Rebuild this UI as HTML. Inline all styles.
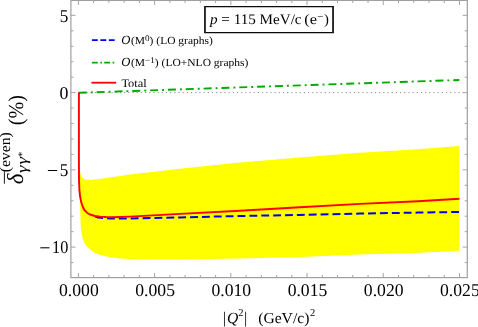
<!DOCTYPE html>
<html><head><meta charset="utf-8"><title>plot</title>
<style>
html,body{margin:0;padding:0;background:#fff;}
body{width:478px;height:327px;overflow:hidden;}
svg{display:block;}
text{font-family:"Liberation Serif",serif;fill:#000;text-rendering:geometricPrecision;}
</style></head><body>
<svg width="478" height="327" viewBox="0 0 478 327" style="will-change:transform;transform:translateZ(0)">
<defs><clipPath id="cb"><rect x="92" y="200" width="380" height="30"/></clipPath></defs>
<rect x="0" y="0" width="478" height="327" fill="#ffffff"/>
<path d="M79.0,92.6 L79.2,150.0 L79.6,168.0 L80.2,173.2 L81.5,176.6 L83.9,178.9 L87.6,180.1 L89.9,180.0 L99.8,179.1 L109.8,177.6 L120.0,175.9 L130.0,174.6 L180.0,168.8 L240.0,162.4 L300.0,157.6 L360.0,152.8 L418.0,149.2 L459.4,146.1 L459.4,250.8 L420.0,252.7 L360.0,254.6 L300.0,256.9 L240.0,258.6 L180.0,259.6 L150.0,259.4 L130.0,258.9 L120.2,258.4 L110.2,257.2 L100.1,255.1 L95.0,253.1 L90.7,250.1 L87.8,247.5 L85.7,245.1 L83.8,241.5 L82.5,237.5 L81.4,232.0 L80.7,225.0 L80.1,205.0 L79.6,180.0 L79.2,150.0 Z" fill="#ffff00" stroke="none"/>
<line x1="70.9" y1="92.6" x2="467.3" y2="92.6" stroke="#777" stroke-width="0.9" stroke-dasharray="1.1 3.08" stroke-dashoffset="1.1"/>
<path d="M79.0,92.6 L79.0,160.0 L79.4,180.0 L80.3,196.0 L81.8,204.0 L84.7,210.2 L89.5,214.6 L98.2,217.6 L110.0,218.4 L122.0,218.6 L130.0,218.5 L180.0,217.4 L240.0,216.0 L300.0,214.9 L360.0,213.6 L418.0,212.6 L459.4,212.0" fill="none" stroke="#0000e8" stroke-width="2" stroke-dasharray="7.9 3.97" stroke-dashoffset="-0.5" stroke-linejoin="round" clip-path="url(#cb)"/>
<path d="M78.4,92.8 L459.3,80.0" fill="none" stroke="#00aa00" stroke-width="1.9" stroke-dasharray="8 4 1.9 3.94" stroke-dashoffset="-0.4"/>
<path d="M78.9,92.6 L78.9,160.0 L79.0,180.0 L79.4,190.0 L80.1,196.5 L81.3,202.5 L82.7,206.5 L84.4,210.0 L87.0,212.7 L90.0,214.5 L95.0,216.0 L100.0,216.6 L106.0,217.0 L112.7,217.2 L120.0,217.0 L130.0,216.6 L180.0,213.9 L240.0,210.7 L300.0,207.2 L360.0,203.9 L418.0,201.2 L459.5,198.8" fill="none" stroke="#ff0000" stroke-width="1.9" stroke-linejoin="round"/>
<rect x="70.9" y="0.4" width="396.4" height="277.2" fill="none" stroke="#9f9f9f" stroke-width="1.2"/>
<path d="M78.40,277.6 v-4.6 M78.40,0.4 v4.6 M93.64,277.6 v-2.6 M93.64,0.4 v2.6 M108.89,277.6 v-2.6 M108.89,0.4 v2.6 M124.13,277.6 v-2.6 M124.13,0.4 v2.6 M139.38,277.6 v-2.6 M139.38,0.4 v2.6 M154.62,277.6 v-4.6 M154.62,0.4 v4.6 M169.86,277.6 v-2.6 M169.86,0.4 v2.6 M185.11,277.6 v-2.6 M185.11,0.4 v2.6 M200.35,277.6 v-2.6 M200.35,0.4 v2.6 M215.60,277.6 v-2.6 M215.60,0.4 v2.6 M230.84,277.6 v-4.6 M230.84,0.4 v4.6 M246.08,277.6 v-2.6 M246.08,0.4 v2.6 M261.33,277.6 v-2.6 M261.33,0.4 v2.6 M276.57,277.6 v-2.6 M276.57,0.4 v2.6 M291.82,277.6 v-2.6 M291.82,0.4 v2.6 M307.06,277.6 v-4.6 M307.06,0.4 v4.6 M322.30,277.6 v-2.6 M322.30,0.4 v2.6 M337.55,277.6 v-2.6 M337.55,0.4 v2.6 M352.79,277.6 v-2.6 M352.79,0.4 v2.6 M368.04,277.6 v-2.6 M368.04,0.4 v2.6 M383.28,277.6 v-4.6 M383.28,0.4 v4.6 M398.52,277.6 v-2.6 M398.52,0.4 v2.6 M413.77,277.6 v-2.6 M413.77,0.4 v2.6 M429.01,277.6 v-2.6 M429.01,0.4 v2.6 M444.26,277.6 v-2.6 M444.26,0.4 v2.6 M459.50,277.6 v-4.6 M459.50,0.4 v4.6 M70.9,262.55 h2.6 M467.3,262.55 h-2.6 M70.9,247.10 h4.6 M467.3,247.10 h-4.6 M70.9,231.65 h2.6 M467.3,231.65 h-2.6 M70.9,216.20 h2.6 M467.3,216.20 h-2.6 M70.9,200.75 h2.6 M467.3,200.75 h-2.6 M70.9,185.30 h2.6 M467.3,185.30 h-2.6 M70.9,169.85 h4.6 M467.3,169.85 h-4.6 M70.9,154.40 h2.6 M467.3,154.40 h-2.6 M70.9,138.95 h2.6 M467.3,138.95 h-2.6 M70.9,123.50 h2.6 M467.3,123.50 h-2.6 M70.9,108.05 h2.6 M467.3,108.05 h-2.6 M70.9,92.60 h4.6 M467.3,92.60 h-4.6 M70.9,77.15 h2.6 M467.3,77.15 h-2.6 M70.9,61.70 h2.6 M467.3,61.70 h-2.6 M70.9,46.25 h2.6 M467.3,46.25 h-2.6 M70.9,30.80 h2.6 M467.3,30.80 h-2.6 M70.9,15.35 h4.6 M467.3,15.35 h-4.6" fill="none" stroke="#a4a4a4" stroke-width="1"/>
<text x="78.9" y="296" font-size="18" text-anchor="middle" textLength="39.7" lengthAdjust="spacingAndGlyphs">0.000</text>
<text x="155.1" y="296" font-size="18" text-anchor="middle" textLength="39.7" lengthAdjust="spacingAndGlyphs">0.005</text>
<text x="231.3" y="296" font-size="18" text-anchor="middle" textLength="39.7" lengthAdjust="spacingAndGlyphs">0.010</text>
<text x="307.5" y="296" font-size="18" text-anchor="middle" textLength="39.7" lengthAdjust="spacingAndGlyphs">0.015</text>
<text x="383.7" y="296" font-size="18" text-anchor="middle" textLength="39.7" lengthAdjust="spacingAndGlyphs">0.020</text>
<text x="459.9" y="296" font-size="18" text-anchor="middle" textLength="39.7" lengthAdjust="spacingAndGlyphs">0.025</text>
<text x="68.3" y="21.8" font-size="18" text-anchor="end" textLength="8.6" lengthAdjust="spacingAndGlyphs">5</text>
<text x="68.3" y="98.6" font-size="18" text-anchor="end" textLength="8.9" lengthAdjust="spacingAndGlyphs">0</text>
<text x="68.3" y="175.8" font-size="18" text-anchor="end" textLength="8.6" lengthAdjust="spacingAndGlyphs">5</text>
<line x1="47.9" y1="170.5" x2="57.1" y2="170.5" stroke="#000" stroke-width="1.05"/>
<text x="68.3" y="253.1" font-size="18" text-anchor="end" textLength="16.2" lengthAdjust="spacingAndGlyphs">10</text>
<line x1="40.3" y1="247.8" x2="49.5" y2="247.8" stroke="#000" stroke-width="1.05"/>
<rect x="205" y="6.5" width="128" height="26" fill="#fff" stroke="none"/><path d="M204.1,6.5 H333.9 M204.1,32.5 H333.9" stroke="#0a0a0a" stroke-width="1.25" fill="none"/><path d="M204.95,6 V33 M333.05,6 V33" stroke="#1c1c1c" stroke-width="1.8" fill="none"/>
<text x="210" y="23.8" font-size="14.6" textLength="91.6" lengthAdjust="spacingAndGlyphs"><tspan font-style="italic">p</tspan> = 115 MeV/c</text>
<text x="304.3" y="23.8" font-size="14.6" textLength="12.7" lengthAdjust="spacingAndGlyphs">(e</text>
<text x="317.3" y="19.9" font-size="10.8">−</text>
<text x="323.9" y="23.8" font-size="14.6">)</text>
<line x1="91.9" y1="40.15" x2="116.2" y2="40.15" stroke="#0000ff" stroke-width="1.9" stroke-dasharray="5.9 2.55"/>
<line x1="91.9" y1="62.7" x2="116.2" y2="62.7" stroke="#00aa00" stroke-width="1.8" stroke-dasharray="5.9 2.55 1.6 2.25"/>
<line x1="91.4" y1="82.7" x2="116.2" y2="82.7" stroke="#ff0000" stroke-width="1.8"/>
<text x="121.2" y="43.8" font-size="12.6" font-style="italic">O</text>
<text x="131" y="43.8" font-size="10.8" textLength="81.8" lengthAdjust="spacingAndGlyphs">(M<tspan font-size="8.6" dy="-2.9">0</tspan><tspan dy="2.9">) (LO graphs)</tspan></text>
<text x="121.2" y="66.2" font-size="12.6" font-style="italic">O</text>
<text x="131" y="66.2" font-size="10.8" textLength="117.4" lengthAdjust="spacingAndGlyphs">(M<tspan font-size="8.6" dy="-2.9">−1</tspan><tspan dy="2.9">) (LO+NLO graphs)</tspan></text>
<text x="121.4" y="86.7" font-size="11.5" textLength="25.4" lengthAdjust="spacingAndGlyphs">Total</text>
<text x="222.7" y="323.3" font-size="16.4">|</text>
<text x="227.0" y="323.4" font-size="15.6" font-style="italic">Q</text>
<text x="238.3" y="316.4" font-size="10.5">2</text>
<text x="244.0" y="323.3" font-size="16.4">|</text>
<text x="258.2" y="323.4" font-size="15.2" textLength="51.2" lengthAdjust="spacingAndGlyphs">(GeV/c)</text>
<text x="310.0" y="316.4" font-size="10.5">2</text>
<g transform="translate(22.8,184.5) rotate(-90)">
<text x="0.3" y="0" font-size="23" font-style="italic">δ</text>
<line x1="0.8" y1="-18.4" x2="13" y2="-18.4" stroke="#000" stroke-width="0.9"/>
<text x="12.2" y="-12.5" font-size="15" textLength="40" lengthAdjust="spacingAndGlyphs">(even)</text>
<text x="11.6" y="4.5" font-size="15.2" font-style="italic" textLength="7.6" lengthAdjust="spacingAndGlyphs">γ</text>
<text x="19.9" y="4.5" font-size="15.2" font-style="italic" textLength="7.6" lengthAdjust="spacingAndGlyphs">γ</text>
<text x="27.8" y="1.8" font-size="10">*</text>
<text x="59.3" y="-0.3" font-size="21.3" textLength="30.2" lengthAdjust="spacingAndGlyphs">(%)</text>
</g>
</svg>
</body></html>
